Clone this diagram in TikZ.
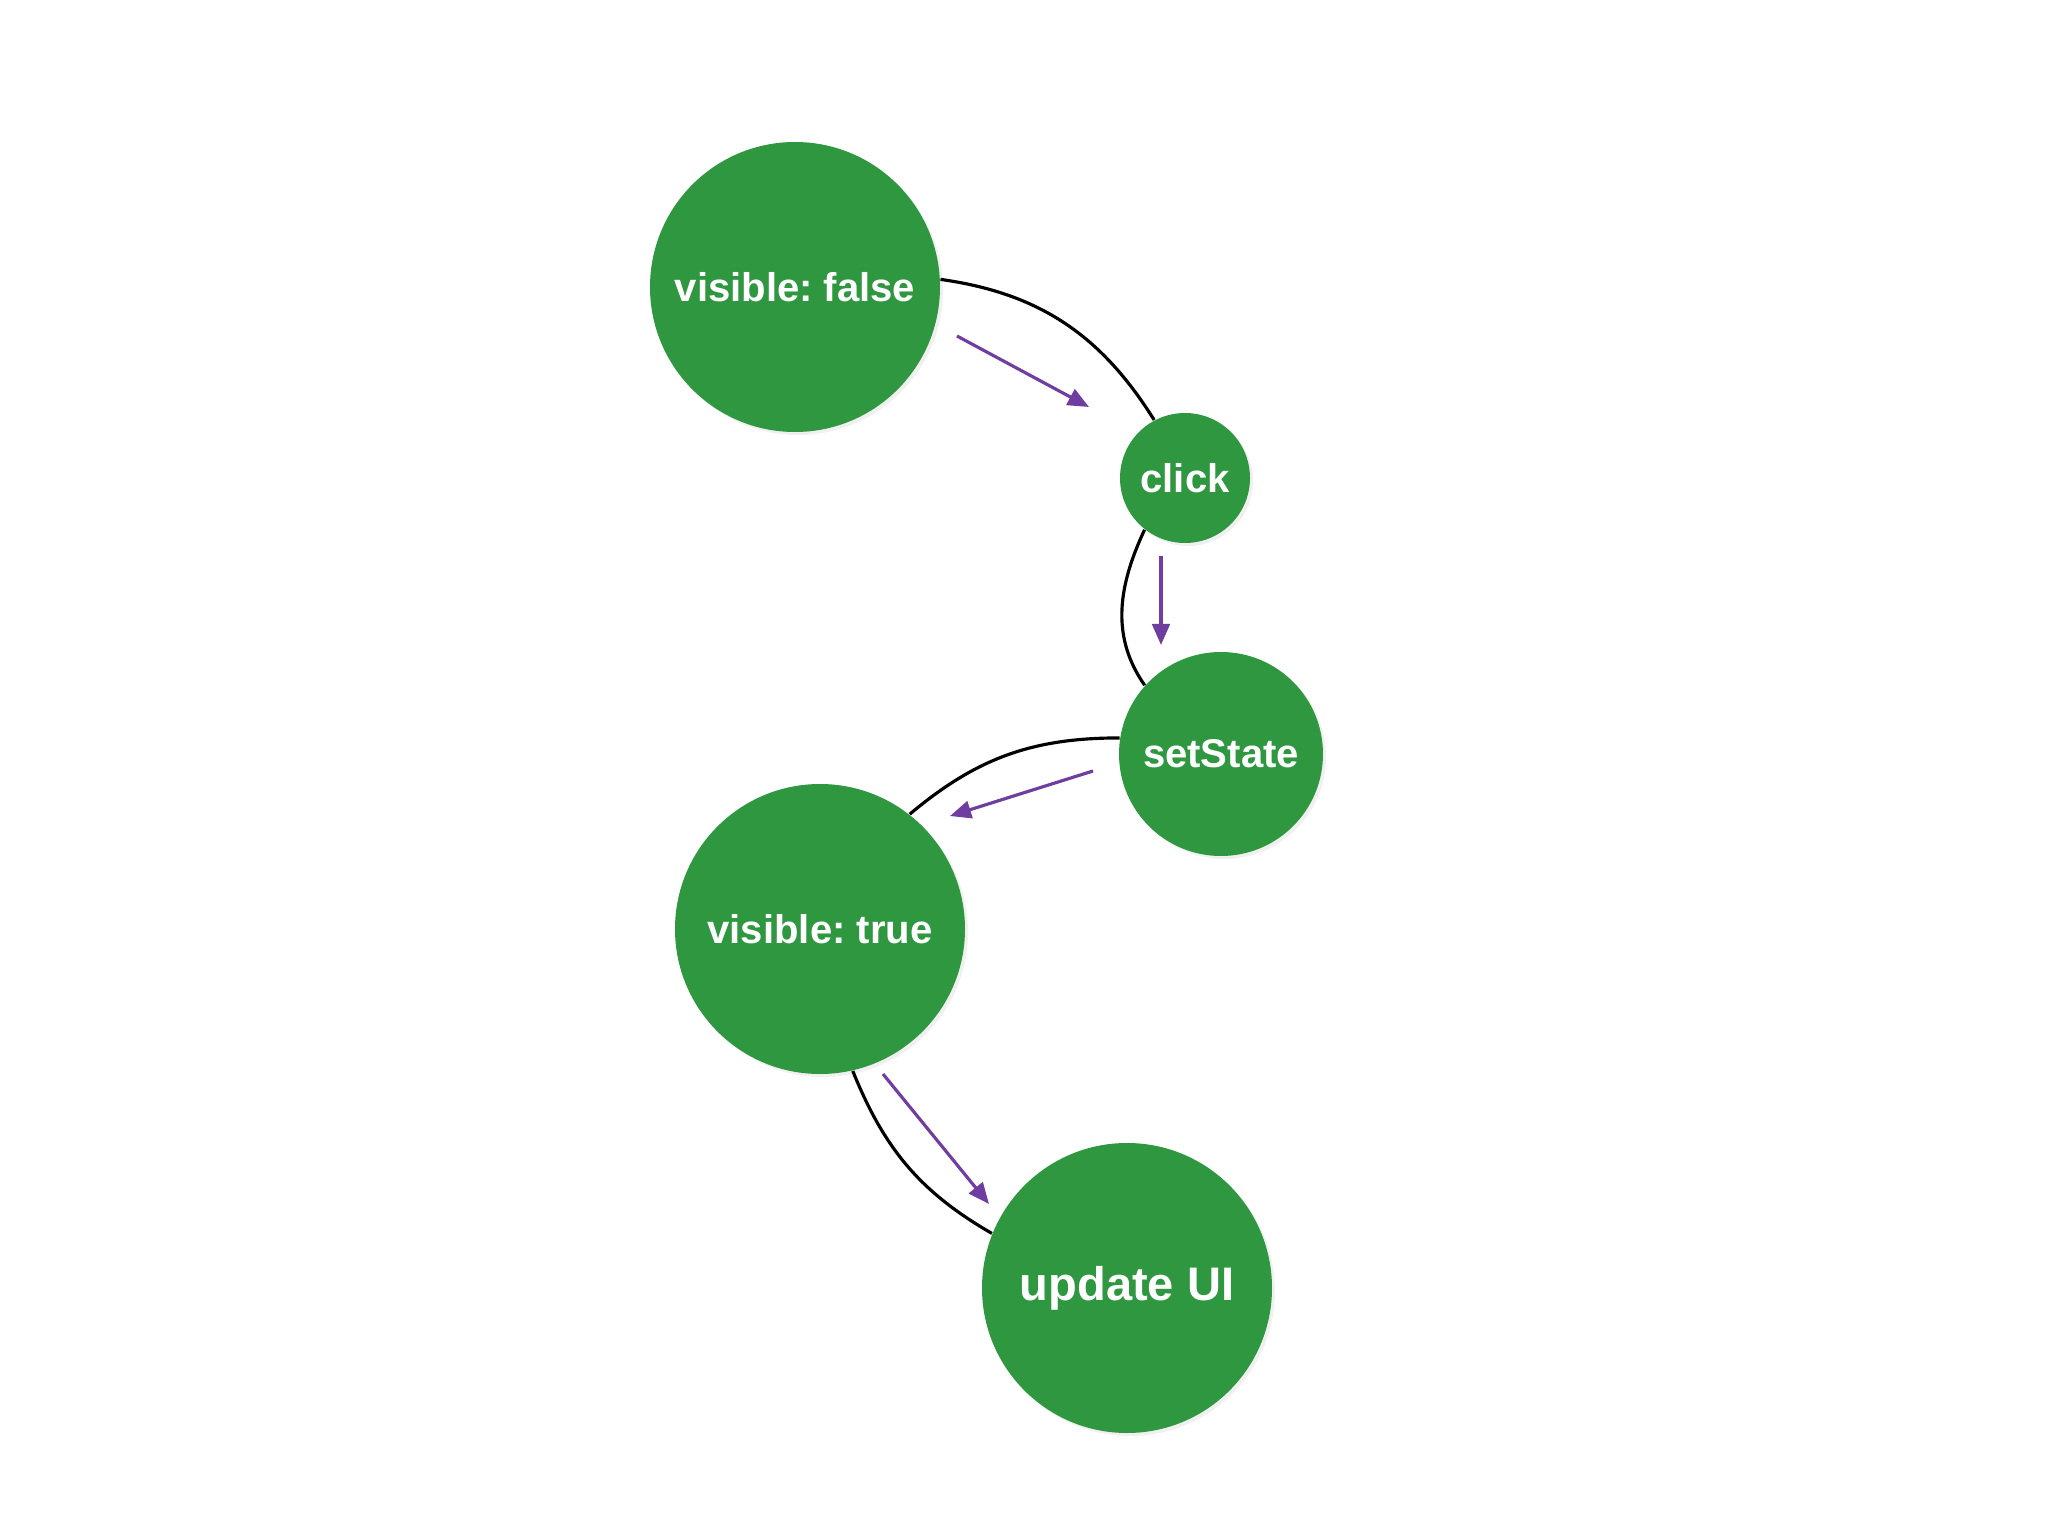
\documentclass[tikz,border=0pt]{standalone}
\usepackage{fontspec}
\setmainfont{Liberation Sans}
\usetikzlibrary{arrows.meta,shadows}
\definecolor{stategreen}{RGB}{46,151,64}
\definecolor{flowpurple}{RGB}{112,62,160}
\frenchspacing
\begin{document}
\begin{tikzpicture}[
		state/.style={circle,fill=stategreen,text=white,inner sep=0pt,font=\fontsize{11.4}{13}\selectfont\bfseries,
			drop shadow={opacity=0.12,shadow xshift=0.03,shadow yshift=-0.03}},
		link/.style={black,line width=0.9pt},
		flow/.style={flowpurple,line width=0.9pt,-{Triangle[length=6pt,width=5pt]}}]
		\useasboundingbox (0,0) rectangle (20.48,-15.36);
		\node[state,minimum size=2.9cm] (vf) at (7.95,-2.87) {visible: false};
		\node[state,minimum size=1.3cm] (click) at (11.85,-4.78) {click};
		\node[state,minimum size=2.04cm] (set) at (12.21,-7.54) {setState};
		\node[state,minimum size=2.9cm] (vt) at (8.20,-9.29) {visible: true};
		\node[state,minimum size=2.9cm,font=\fontsize{13.4}{15}\selectfont\bfseries] (ui) at (11.27,-12.88) {update UI};
		\draw[link] (vf.3) to[out=-8,in=122] (click.118);
		\draw[link] (click.232) to[out=245,in=125] (set.138);
		\draw[link] (set.171) to[out=180,in=40] (vt.52);
		\draw[link] (vt.-77) to[out=-68,in=150] (ui.158);
		\coordinate (f1a) at (9.57,-3.36);
		\coordinate (f1b) at (10.89,-4.07);
		\coordinate (f2a) at (11.61,-5.56);
		\coordinate (f2b) at (11.61,-6.45);
		\coordinate (f3a) at (10.93,-7.71);
		\coordinate (f3b) at (9.50,-8.16);
		\coordinate (f4a) at (8.83,-10.74);
		\coordinate (f4b) at (9.89,-12.04);
		\draw[flow] (f1a) -- (f1b);
		\draw[flow] (f2a) -- (f2b);
		\draw[flow] (f3a) -- (f3b);
		\draw[flow] (f4a) -- (f4b);
	\end{tikzpicture}
\end{document}
